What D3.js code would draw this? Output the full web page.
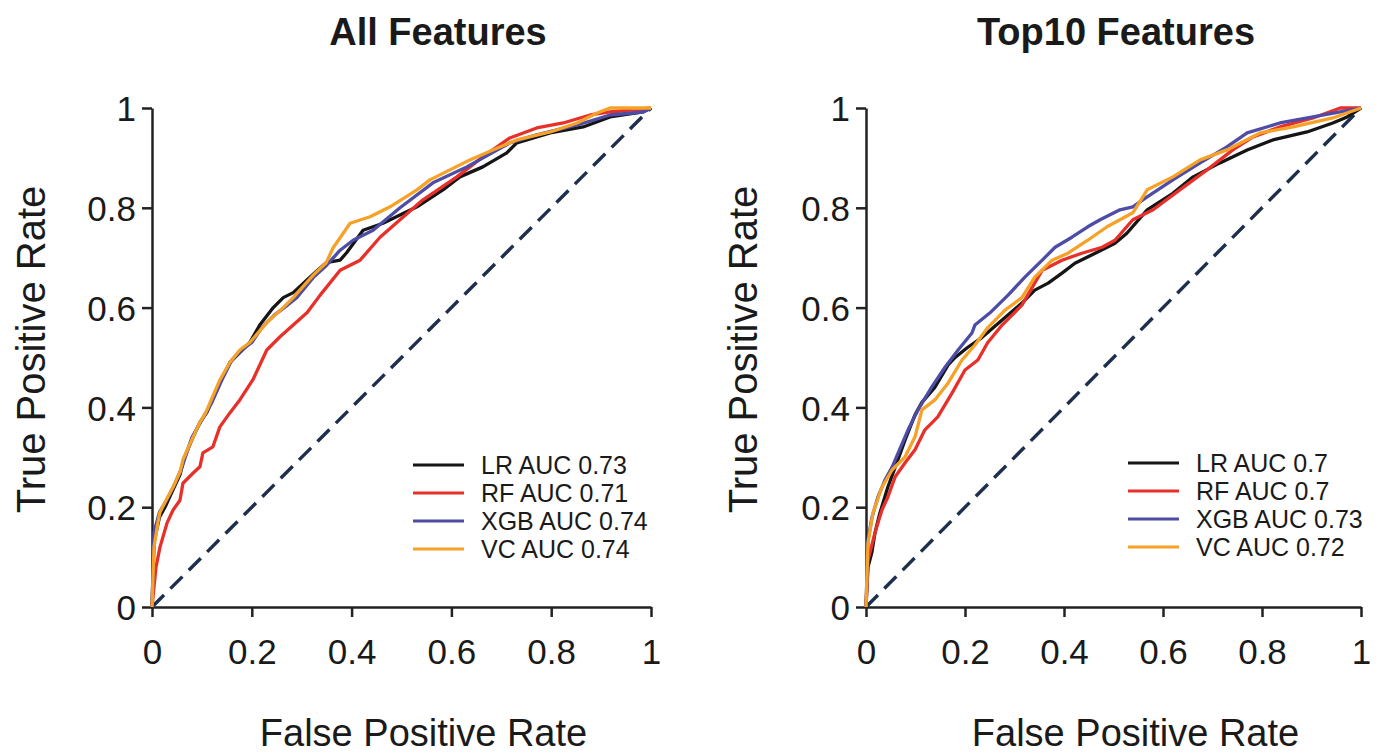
<!DOCTYPE html>
<html>
<head>
<meta charset="utf-8">
<script src="https://cdn.jsdelivr.net/npm/d3@7"></script>
<style>
  body { margin: 0; background: #fff; }
  text { font-family: "Liberation Sans", Arial, Helvetica, sans-serif; fill: #1a1a1a; }
</style>
</head>
<body>
<div id="chart"></div>
<script>
// DATA (fpr, tpr)
const allLR = [[0,0],[0.004,0.13],[0.015,0.18],[0.026,0.2],[0.042,0.235],[0.056,0.265],[0.065,0.3],[0.082,0.34],[0.096,0.37],[0.11,0.39],[0.136,0.45],[0.156,0.49],[0.176,0.51],[0.196,0.53],[0.216,0.565],[0.243,0.6],[0.263,0.62],[0.283,0.63],[0.323,0.667],[0.349,0.69],[0.377,0.695],[0.39,0.71],[0.423,0.755],[0.463,0.769],[0.531,0.802],[0.583,0.836],[0.617,0.862],[0.663,0.882],[0.711,0.91],[0.731,0.93],[0.798,0.95],[0.864,0.962],[0.918,0.982],[0.984,0.992],[1,1]];
const allRF = [[0,0],[0.008,0.08],[0.016,0.12],[0.03,0.168],[0.042,0.194],[0.056,0.214],[0.062,0.248],[0.082,0.268],[0.096,0.281],[0.102,0.309],[0.122,0.321],[0.136,0.361],[0.156,0.389],[0.176,0.415],[0.202,0.455],[0.23,0.515],[0.256,0.541],[0.283,0.565],[0.311,0.59],[0.337,0.625],[0.377,0.675],[0.417,0.695],[0.457,0.741],[0.497,0.776],[0.543,0.816],[0.611,0.862],[0.663,0.902],[0.717,0.94],[0.771,0.96],[0.824,0.97],[0.878,0.986],[0.918,0.992],[1,1]];
const allXGB = [[0,0],[0.004,0.15],[0.015,0.19],[0.03,0.215],[0.045,0.245],[0.06,0.28],[0.08,0.34],[0.1,0.375],[0.12,0.41],[0.14,0.455],[0.16,0.495],[0.18,0.515],[0.2,0.53],[0.22,0.56],[0.245,0.585],[0.265,0.6],[0.29,0.62],[0.323,0.66],[0.35,0.685],[0.377,0.715],[0.403,0.735],[0.443,0.755],[0.497,0.8],[0.563,0.85],[0.631,0.882],[0.717,0.93],[0.771,0.946],[0.852,0.966],[0.918,0.986],[0.984,0.992],[1,1]];
const allVC = [[0,0],[0.004,0.12],[0.012,0.17],[0.016,0.19],[0.026,0.21],[0.042,0.24],[0.056,0.27],[0.062,0.295],[0.082,0.34],[0.096,0.37],[0.108,0.39],[0.136,0.455],[0.156,0.49],[0.176,0.515],[0.196,0.53],[0.23,0.57],[0.263,0.6],[0.283,0.62],[0.323,0.665],[0.349,0.69],[0.363,0.72],[0.377,0.74],[0.397,0.769],[0.437,0.782],[0.477,0.802],[0.531,0.836],[0.557,0.856],[0.597,0.876],[0.637,0.896],[0.683,0.916],[0.731,0.936],[0.798,0.952],[0.852,0.97],[0.892,0.99],[0.918,1],[1,1]];

const topLR = [[0,0],[0.004,0.08],[0.012,0.11],[0.018,0.148],[0.028,0.188],[0.044,0.24],[0.059,0.28],[0.079,0.335],[0.099,0.385],[0.113,0.41],[0.139,0.44],[0.166,0.485],[0.18,0.5],[0.205,0.52],[0.234,0.54],[0.275,0.575],[0.315,0.609],[0.341,0.635],[0.368,0.649],[0.396,0.669],[0.422,0.689],[0.463,0.709],[0.503,0.729],[0.527,0.749],[0.568,0.796],[0.62,0.829],[0.661,0.862],[0.715,0.89],[0.77,0.916],[0.822,0.936],[0.891,0.952],[0.943,0.97],[0.972,0.982],[1,1]];
const topRF = [[0,0],[0.004,0.094],[0.018,0.148],[0.032,0.194],[0.044,0.22],[0.059,0.261],[0.079,0.289],[0.099,0.315],[0.119,0.355],[0.145,0.381],[0.174,0.429],[0.2,0.475],[0.226,0.495],[0.246,0.53],[0.275,0.565],[0.315,0.605],[0.356,0.675],[0.396,0.695],[0.436,0.709],[0.477,0.721],[0.503,0.735],[0.539,0.776],[0.58,0.796],[0.634,0.836],[0.689,0.876],[0.741,0.916],[0.782,0.942],[0.836,0.962],[0.903,0.98],[0.958,1],[1,1]];
const topXGB = [[0,0],[0.004,0.134],[0.012,0.18],[0.024,0.22],[0.038,0.254],[0.053,0.281],[0.065,0.309],[0.085,0.355],[0.105,0.395],[0.133,0.441],[0.16,0.481],[0.186,0.515],[0.214,0.549],[0.22,0.565],[0.25,0.589],[0.287,0.625],[0.321,0.661],[0.356,0.695],[0.382,0.721],[0.416,0.741],[0.448,0.762],[0.473,0.776],[0.513,0.796],[0.539,0.802],[0.568,0.822],[0.62,0.856],[0.675,0.89],[0.729,0.922],[0.77,0.95],[0.836,0.97],[0.903,0.982],[0.958,0.992],[1,1]];
const topVC = [[0,0],[0.004,0.128],[0.014,0.188],[0.032,0.24],[0.053,0.275],[0.079,0.301],[0.099,0.341],[0.113,0.395],[0.139,0.415],[0.166,0.449],[0.194,0.495],[0.22,0.525],[0.246,0.56],[0.281,0.595],[0.315,0.62],[0.341,0.661],[0.376,0.695],[0.408,0.709],[0.448,0.735],[0.487,0.762],[0.539,0.79],[0.568,0.836],[0.62,0.862],[0.675,0.896],[0.729,0.916],[0.796,0.95],[0.863,0.962],[0.943,0.98],[1,1]];

const models = ["LR", "RF", "XGB", "VC"];
const allAUC = ["0.73", "0.71", "0.74", "0.74"];
const topAUC = ["0.7", "0.7", "0.73", "0.72"];
const tickValues = [0, 0.2, 0.4, 0.6, 0.8, 1];
const tickLabels = ["0", "0.2", "0.4", "0.6", "0.8", "1"];

const colors = { LR: "#151515", RF: "#e8302a", XGB: "#4d4ca6", VC: "#f6a127" };

//DIMENSIONS
const width = 1384, height = 754;
const plotTop = 108, plotBottom = 607;

const svg = d3.select("#chart")
  .append("svg")
  .attr("width", width)
  .attr("height", height);

const panels = [
  { title: "All Features", titleX: 438, left: 152, right: 651, series: [allLR, allRF, allXGB, allVC], auc: allAUC,
    yTitleX: 45, legendX: 413, legendY: 465 },
  { title: "Top10 Features", titleX: 1116, left: 866, right: 1361, series: [topLR, topRF, topXGB, topVC], auc: topAUC,
    yTitleX: 757, legendX: 1128, legendY: 463 }
];

panels.forEach(p => {
  const x = d3.scaleLinear().domain([0, 1]).range([p.left, p.right]);
  const y = d3.scaleLinear().domain([0, 1]).range([plotBottom, plotTop]);
  const g = svg.append("g");

  // TITLE
  g.append("text")
    .attr("x", p.titleX)
    .attr("y", 45)
    .attr("text-anchor", "middle")
    .style("font-size", "38px")
    .style("font-weight", 700)
    .text(p.title);

  // AXES
  const xAxis = d3.axisBottom(x).tickValues(tickValues).tickSize(10).tickSizeOuter(0)
    .tickFormat((d, i) => tickLabels[i]).tickPadding(22);
  const yAxis = d3.axisLeft(y).tickValues(tickValues).tickSize(10).tickSizeOuter(0)
    .tickFormat((d, i) => tickLabels[i]).tickPadding(6);

  const gx = g.append("g").attr("transform", `translate(0,${plotBottom})`).call(xAxis);
  const gy = g.append("g").attr("transform", `translate(${p.left},0)`).call(yAxis);

  [gx, gy].forEach(a => {
    a.select(".domain").attr("stroke", "#222").attr("stroke-width", 2.5);
    a.selectAll(".tick line").attr("stroke", "#222").attr("stroke-width", 2.5);
    a.selectAll(".tick text")
      .style("font-size", "35px")
      .style("font-family", "'Liberation Sans', Arial, sans-serif")
      .attr("fill", "#1a1a1a");
  });
  gx.selectAll(".tick text").attr("dy", "0.71em");
  gy.selectAll(".tick text").attr("dy", "0.36em");

  // AXIS TITLES
  g.append("text")
    .attr("x", (p.left + p.right) / 2 + 22)
    .attr("y", 746)
    .attr("text-anchor", "middle")
    .style("font-size", "38px")
    .text("False Positive Rate");

  g.append("text")
    .attr("transform", `translate(${p.yTitleX},${(plotTop + plotBottom) / 2 - 8}) rotate(-90)`)
    .attr("text-anchor", "middle")
    .style("font-size", "40px")
    .text("True Positive Rate");

  // DIAGONAL
  g.append("path")
    .attr("d", d3.line().x(d => x(d[0])).y(d => y(d[1]))([[0, 0], [1, 1]]))
    .attr("fill", "none")
    .attr("stroke", "#1d2f4c")
    .attr("stroke-width", 3.4)
    .attr("stroke-dasharray", "17,9");

  // ROC CURVES
  const line = d3.line().x(d => x(d[0])).y(d => y(d[1]));
  p.series.forEach((s, i) => {
    g.append("path")
      .attr("d", line(s))
      .attr("fill", "none")
      .attr("stroke", colors[models[i]])
      .attr("stroke-width", 3.3)
      .attr("stroke-linejoin", "round");
  });

  // LEGEND
  const legend = g.append("g").attr("transform", `translate(${p.legendX},${p.legendY})`);
  const item = legend.selectAll(".legend-item")
    .data(models)
    .enter()
    .append("g")
    .attr("transform", (d, i) => `translate(0,${i * 28})`);
  item.append("line")
    .attr("x1", 0).attr("x2", 51)
    .attr("stroke", d => colors[d])
    .attr("stroke-width", 3);
  item.append("text")
    .attr("x", 68)
    .attr("dy", "0.36em")
    .style("font-size", "25px")
    .text((d, i) => `${d} AUC ${p.auc[i]}`);
});
</script>
</body>
</html>
